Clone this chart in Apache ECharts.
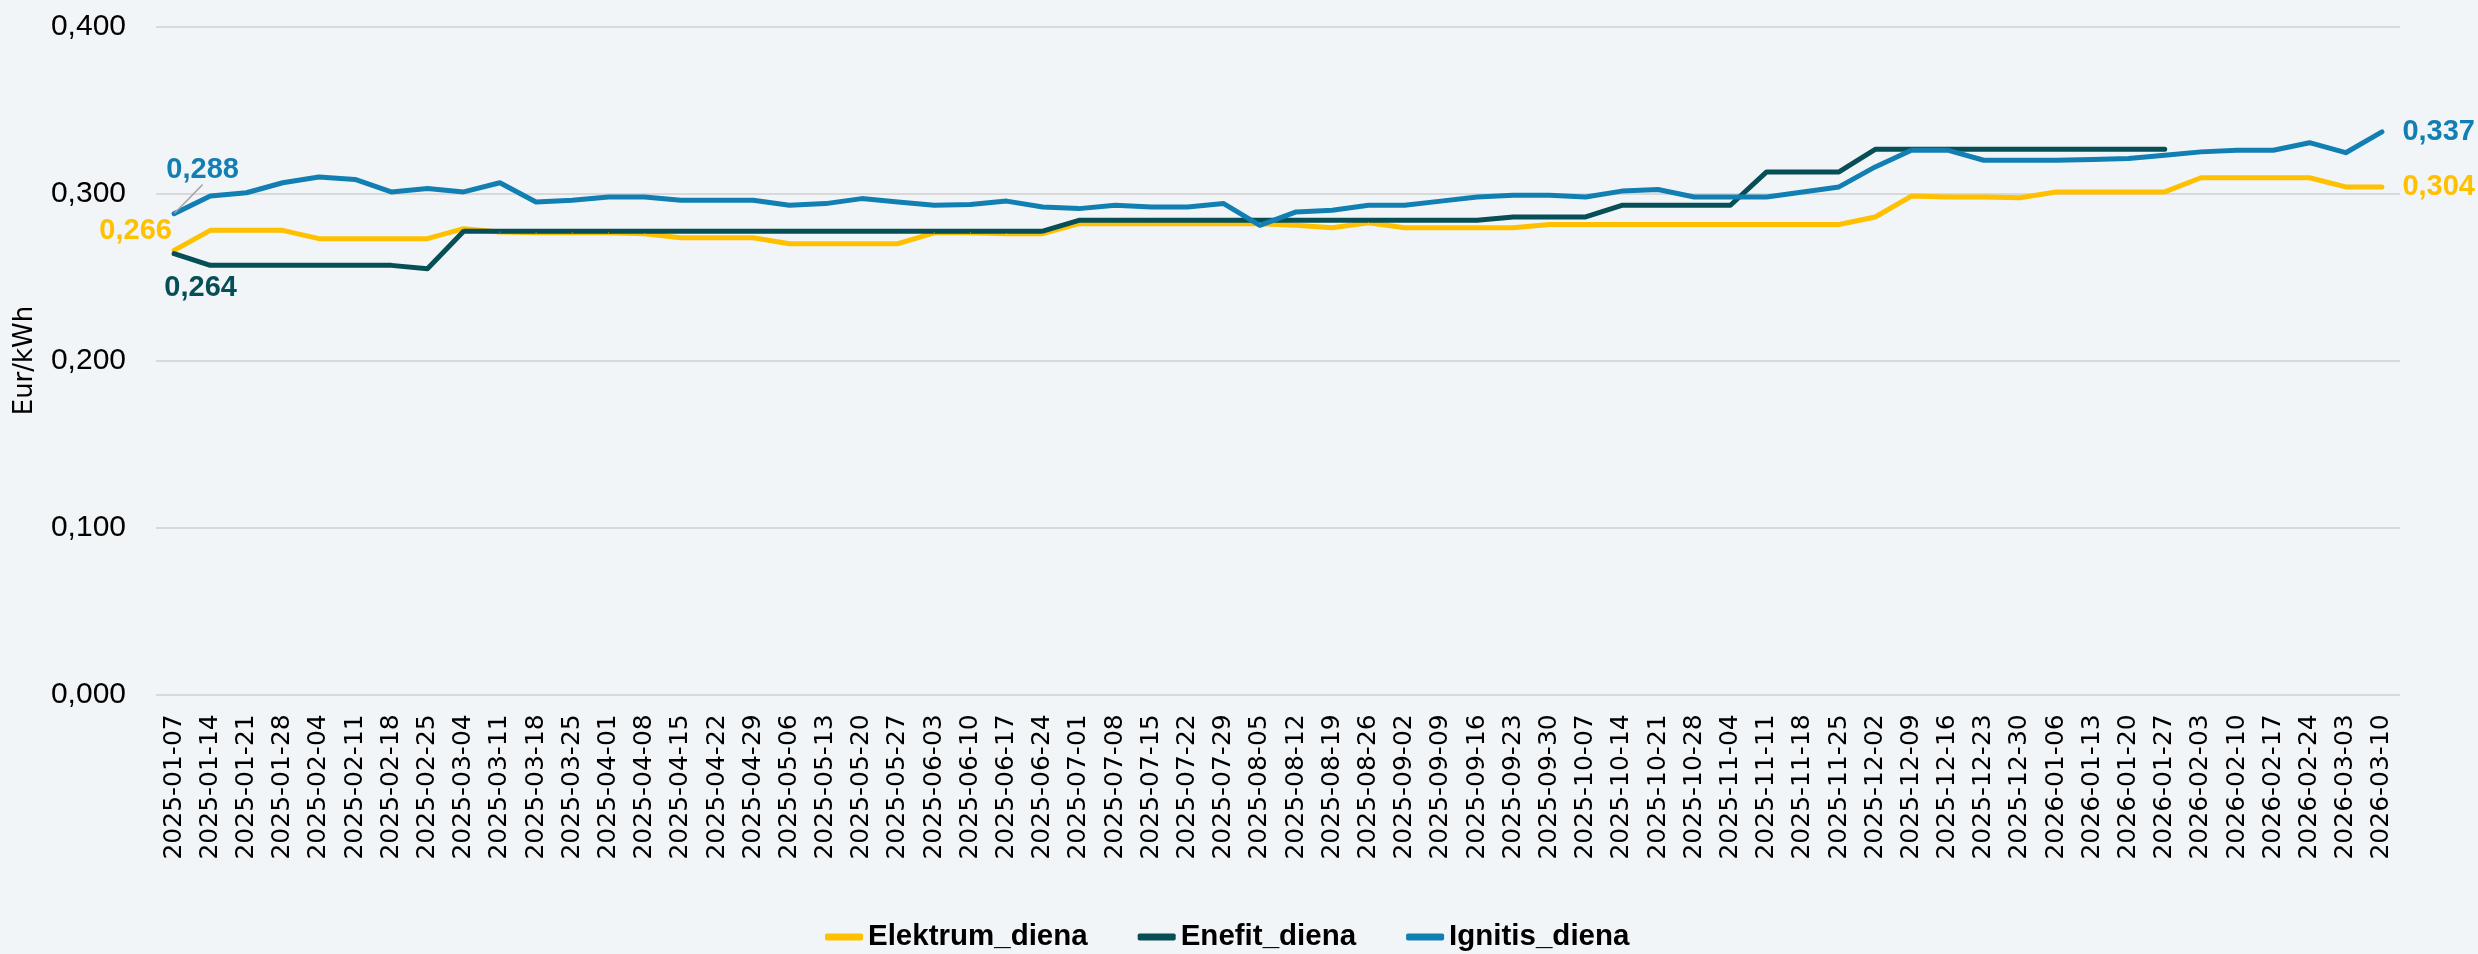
<!DOCTYPE html>
<html>
<head>
<meta charset="utf-8">
<script src="https://cdn.jsdelivr.net/npm/echarts@6/dist/echarts.min.js"></script>
<style>
html,body{margin:0;padding:0;background:#F1F5F8;}
#chart{width:2478px;height:954px;}
</style>
</head>
<body>
<div id="chart"></div>
<script>
const categories = [
'2025-01-07','2025-01-14','2025-01-21','2025-01-28','2025-02-04','2025-02-11','2025-02-18','2025-02-25',
'2025-03-04','2025-03-11','2025-03-18','2025-03-25','2025-04-01','2025-04-08','2025-04-15','2025-04-22','2025-04-29',
'2025-05-06','2025-05-13','2025-05-20','2025-05-27','2025-06-03','2025-06-10','2025-06-17','2025-06-24',
'2025-07-01','2025-07-08','2025-07-15','2025-07-22','2025-07-29','2025-08-05','2025-08-12','2025-08-19','2025-08-26',
'2025-09-02','2025-09-09','2025-09-16','2025-09-23','2025-09-30','2025-10-07','2025-10-14','2025-10-21','2025-10-28',
'2025-11-04','2025-11-11','2025-11-18','2025-11-25','2025-12-02','2025-12-09','2025-12-16','2025-12-23','2025-12-30',
'2026-01-06','2026-01-13','2026-01-20','2026-01-27','2026-02-03','2026-02-10','2026-02-17','2026-02-24','2026-03-03','2026-03-10'
];

const elektrum = [
0.266,0.278,0.278,0.278,0.273,0.273,0.273,0.273,
0.279,0.277,0.2765,0.2765,0.2765,0.276,0.2735,0.2735,0.2735,
0.270,0.270,0.270,0.270,0.2765,0.2765,0.276,0.276,
0.282,0.282,0.282,0.282,0.282,0.282,0.281,0.2795,0.2825,
0.2795,0.2795,0.2795,0.2795,0.2815,0.2815,0.2815,0.2815,0.2815,
0.2815,0.2815,0.2815,0.2815,0.286,0.2985,0.298,0.298,0.2975,
0.301,0.301,0.301,0.301,0.3095,0.3095,0.3095,0.3095,0.304,0.304
];

const enefit = [
0.264,0.257,0.257,0.257,0.257,0.257,0.257,0.255,
0.2775,0.2775,0.2775,0.2775,0.2775,0.2775,0.2775,0.2775,0.2775,
0.2775,0.2775,0.2775,0.2775,0.2775,0.2775,0.2775,0.2775,
0.284,0.284,0.284,0.284,0.284,0.284,0.284,0.284,0.284,
0.284,0.284,0.284,0.286,0.286,0.286,0.293,0.293,0.293,
0.293,0.313,0.313,0.313,0.3265,0.3265,0.3265,0.3265,0.3265,
0.3265,0.3265,0.3265,0.3265,null,null,null,null,null,null
];

const ignitis = [
0.288,0.2985,0.3005,0.3065,0.310,0.3085,0.301,0.303,
0.301,0.3065,0.295,0.296,0.298,0.298,0.296,0.296,0.296,
0.293,0.294,0.297,0.295,0.293,0.2935,0.2955,0.292,
0.291,0.293,0.292,0.292,0.294,0.281,0.289,0.290,0.293,
0.293,0.2955,0.298,0.299,0.299,0.298,0.3015,0.3025,0.298,
0.298,0.298,0.301,0.304,0.316,0.326,0.326,0.320,0.320,
0.320,0.3205,0.321,0.323,0.325,0.326,0.326,0.3305,0.3245,0.337
];

const seriesNames = ['Elektrum_diena','Enefit_diena','Ignitis_diena'];
const colors = ['#FFC000','#074F57','#127FB3'];

const fmt = v => v.toFixed(3).replace('.', ',');
const labelFont = {fontFamily:'Liberation Sans', fontSize:29, fontWeight:'bold'};

function build(values, color, labels) {
  return values.map((v, i) => {
    if (labels[i] && v != null) {
      const extra = Object.assign({}, labels[i]);
      const line = extra.labelLine; delete extra.labelLine;
      const item = {value: v, label: Object.assign({show:true, color: color, formatter: p => fmt(p.value)}, labelFont, extra)};
      if (line) item.labelLine = line;
      return item;
    }
    return v;
  });
}

const elLabels = {0: {position:[-38,-19], align:'center', verticalAlign:'middle'}, 61: {position:'right', distance:20}};
const enLabels = {0: {position:[27,35], align:'center', verticalAlign:'middle'}};
const igLabels = {0: {position:[29,-43], align:'center', verticalAlign:'middle',
                      labelLine:{show:true, lineStyle:{color:'#A6A6A6', width:1.5}}},
                  61: {position:'right', distance:20}};

const chart = echarts.init(document.getElementById('chart'), null, {renderer:'canvas'});
const mk = (name, vals, color, labels) => ({
  name: name,
  type: 'line',
  data: build(vals, color, labels),
  symbol: 'circle',
  symbolSize: 1,
  showSymbol: true,
  itemStyle: {color: color},
  lineStyle: {color: color, width: 5, cap: 'round', join: 'round'},
  label: {show: false},
  labelLine: {show: false},
  connectNulls: false,
  emphasis: {disabled: true}
});

chart.setOption({
  backgroundColor: '#F1F5F8',
  animation: false,
  grid: {left:156, right:78, top:26.7, bottom:259.7, containLabel:false, outerBoundsMode:'none'},
  legend: {
    data: seriesNames,
    left: 820,
    top: 917,
    icon: 'roundRect',
    itemWidth: 38,
    itemHeight: 7,
    itemGap: 50,
    textStyle: {fontFamily:'Liberation Sans', fontSize:29.5, fontWeight:'bold', color:'#000', lineHeight:30}
  },
  xAxis: {
    type: 'category',
    data: categories,
    boundaryGap: true,
    axisLine: {show:false},
    axisTick: {show:false},
    axisLabel: {rotate:90, interval:0, margin:20, fontFamily:'DejaVu Sans', fontSize:25, color:'#000'}
  },
  yAxis: {
    type: 'value',
    min: 0, max: 0.4, interval: 0.1,
    name: 'Eur/kWh',
    nameLocation: 'middle',
    nameGap: 118,
    nameTextStyle: {fontFamily:'DejaVu Sans', fontSize:26, color:'#000'},
    axisLine: {show:false},
    axisTick: {show:false},
    splitLine: {show:true, lineStyle:{color:'#D9D9D9', width:2}},
    axisLabel: {formatter: fmt, margin:30, fontFamily:'Liberation Sans', fontSize:30, color:'#000'}
  },
  series: [
    mk(seriesNames[0], elektrum, colors[0], elLabels),
    mk(seriesNames[1], enefit, colors[1], enLabels),
    mk(seriesNames[2], ignitis, colors[2], igLabels)
  ]
});
</script>
</body>
</html>
